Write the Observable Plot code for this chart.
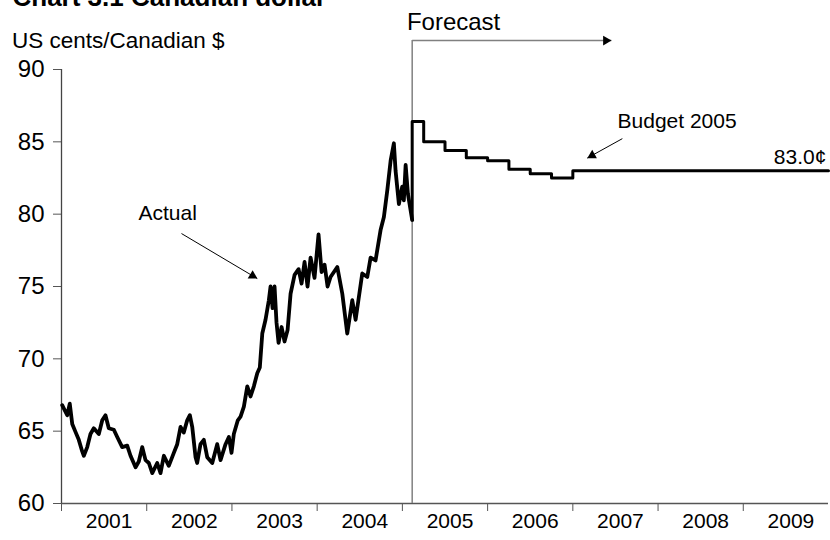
<!DOCTYPE html>
<html><head><meta charset="utf-8">
<script src="https://cdn.jsdelivr.net/npm/d3@7"></script>
<script src="https://cdn.jsdelivr.net/npm/@observablehq/plot@0.6"></script>
<style>
body{margin:0;background:#fff;}
#chart svg{display:block;}
#chart svg [aria-label^="y-axis"] text{font-size:24px;}
#chart svg [aria-label^="x-axis"] line,#chart svg [aria-label^="x-axis"] path,
#chart svg [aria-label^="y-axis"] line,#chart svg [aria-label^="y-axis"] path{stroke:#555;}
</style></head><body><div id="chart"></div>
<script>
// Actual exchange rate (fractional year, US cents per Canadian $)
const actualT = [2001.008,2001.067,2001.097,2001.126,2001.164,2001.203,2001.243,2001.262,2001.302,2001.340,
2001.379,2001.438,2001.478,2001.516,2001.555,2001.614,2001.654,2001.712,2001.771,2001.810,
2001.869,2001.907,2001.947,2001.986,2002.025,2002.065,2002.123,2002.162,2002.201,2002.259,
2002.318,2002.358,2002.397,2002.435,2002.475,2002.506,2002.534,2002.573,2002.592,2002.631,
2002.670,2002.710,2002.769,2002.827,2002.866,2002.925,2002.964,2002.995,2003.022,2003.069,
2003.101,2003.140,2003.180,2003.218,2003.257,2003.297,2003.327,2003.356,2003.394,2003.433,
2003.453,2003.477,2003.500,2003.523,2003.547,2003.582,2003.617,2003.653,2003.688,2003.735,
2003.782,2003.817,2003.852,2003.887,2003.923,2003.969,2004.016,2004.052,2004.087,2004.122,
2004.157,2004.236,2004.295,2004.353,2004.412,2004.451,2004.529,2004.588,2004.627,2004.685,
2004.744,2004.783,2004.823,2004.862,2004.900,2004.920,2004.959,2004.998,2005.017,2005.038,
2005.065,2005.115];
const actualV = [66.8,66.1,66.9,65.5,64.95,64.4,63.6,63.3,63.9,64.8,
65.2,64.8,65.75,66.1,65.2,65.1,64.6,63.9,64.0,63.3,
62.5,62.9,63.9,63.0,62.8,62.1,62.8,62.1,63.3,62.6,
63.5,64.1,65.3,64.9,65.75,66.1,65.3,63.2,62.8,64.1,
64.4,63.2,62.8,64.1,63.0,64.1,64.6,63.5,64.8,65.75,
66.0,66.7,68.1,67.4,68.1,69.0,69.4,71.75,72.7,74.05,
75.0,73.5,75.0,72.5,71.1,72.2,71.2,72.0,74.5,75.8,
76.2,75.2,76.7,75.0,77.0,75.6,78.6,76.0,76.5,75.0,
75.66,76.35,74.5,71.75,74.05,72.7,75.9,75.66,77.0,76.8,
78.9,79.8,81.65,83.7,84.9,83.0,80.7,81.9,80.96,83.4,
81.4,79.6];
// Forecast (quarterly steps)
const forecastT = [2005.115,2005.25,2005.5,2005.75,2006.0,2006.25,2006.5,2006.75,2007.0,2010.0];
const forecastV = [86.4,85.0,84.4,83.9,83.7,83.1,82.8,82.5,83.0,83.0];
// Axes
const yearTicks = [2001,2002,2003,2004,2005,2006,2007,2008,2009];
const yearLabels = ["2001","2002","2003","2004","2005","2006","2007","2008","2009"];
const yTicks = [60,65,70,75,80,85,90];
// Annotation anchors (data units)
const forecastStart = 2005.115;
const forecastArrowT = [2005.115, 2007.452];
const forecastArrowV = 92.0;
const actualArrowT = [2002.408, 2003.297];
const actualArrowV = [78.66, 75.55];
const budgetArrowT = [2007.581, 2007.170];
const budgetArrowV = [85.22, 83.88];
const noteText = ["Forecast","Actual","Budget 2005","83.0¢"];
const noteT = [2005.053, 2002.246, 2008.223, 2009.975];
const noteV = [92.71, 79.58, 85.94, 83.5];
const noteAnchor = ["start","middle","middle","end"];
const noteSize = [24, 21, 21, 21];

const actual = actualT.map((t,i)=>({t, v: actualV[i]}));
const forecast = [actual[actual.length-1], ...forecastT.map((t,i)=>({t, v: forecastV[i]}))];
const labels = yearTicks.map((y,i)=>({t: y + 0.5, text: yearLabels[i]}));
const notes = noteText.map((s,i)=>({text:s, t:noteT[i], v:noteV[i], anchor:noteAnchor[i], size:noteSize[i]}));
const arrowLines = [
  {t1: forecastArrowT[0], v1: forecastArrowV, t2: forecastArrowT[1], v2: forecastArrowV, c:"#808080", w:1.5},
  {t1: actualArrowT[0], v1: actualArrowV[0], t2: actualArrowT[1], v2: actualArrowV[1], c:"#000", w:1},
  {t1: budgetArrowT[0], v1: budgetArrowV[0], t2: budgetArrowT[1], v2: budgetArrowV[1], c:"#000", w:1}
];

const chart = Plot.plot({
  width: 830, height: 540,
  marginLeft: 61, marginRight: 2, marginTop: 69, marginBottom: 37,
  style: {fontFamily: "'Liberation Sans', Arial, sans-serif", fontSize: "21px", color: "#000", background: "#fff", overflow: "hidden"},
  x: {domain: [2001, 2010], ticks: yearTicks, tickFormat: () => "", tickSize: 8, label: null},
  y: {domain: [60, 90], ticks: yTicks, tickSize: 8, tickPadding: 9, label: null},
  marks: [
    Plot.ruleY([60], {x1: () => 2001, x2: () => 2010, stroke: "#555", strokeWidth: 1.3}),
    Plot.ruleX([2001], {y1: () => 60, y2: () => 90, stroke: "#444", strokeWidth: 1.3}),
    Plot.ruleX([forecastStart], {y1: () => 60, y2: () => forecastArrowV, stroke: "#808080", strokeWidth: 1.5}),
    Plot.link(arrowLines, {x1: "t1", y1: "v1", x2: "t2", y2: "v2", stroke: "c", strokeWidth: "w"}),
    Plot.dot([arrowLines[0]], {x: "t2", y: "v2", symbol: "triangle", r: 3.6, rotate: 90, fill: "#000", stroke: "none", dx: -5.4}),
    Plot.dot([arrowLines[1]], {x: "t2", y: "v2", symbol: "triangle", r: 3.6, rotate: 120.7, fill: "#000", stroke: "none", dx: -4.7, dy: -2.8}),
    Plot.dot([arrowLines[2]], {x: "t2", y: "v2", symbol: "triangle", r: 3.6, rotate: 241, fill: "#000", stroke: "none", dx: 4.8, dy: -2.6}),
    Plot.line(actual, {x: "t", y: "v", stroke: "#000", strokeWidth: 3.8, strokeLinejoin: "round"}),
    Plot.line(forecast, {x: "t", y: "v", stroke: "#000", strokeWidth: 3, curve: "step-after"}),
    Plot.text(labels, {x: "t", y: () => 60, text: "text", dy: 10, dx: 5, lineAnchor: "top", fontSize: 21, fill: "#000"}),
    ...notes.map(n => Plot.text([n], {x: "t", y: "v", text: "text", textAnchor: n.anchor, lineAnchor: "bottom", fontSize: n.size, fill: "#000"})),
    Plot.text(["US cents/Canadian $"], {frameAnchor: "top-left", text: d => d, textAnchor: "start", lineAnchor: "bottom", dx: -49.5, dy: -22, fontSize: 22.5, fill: "#000"}),
    Plot.text(["Chart 3.1 Canadian dollar"], {frameAnchor: "top-left", text: d => d, textAnchor: "start", lineAnchor: "bottom", dx: -49, dy: -64, fontSize: 26, fontWeight: "bold", fill: "#000"})
  ]
});
document.getElementById("chart").appendChild(chart);
</script></body></html>
